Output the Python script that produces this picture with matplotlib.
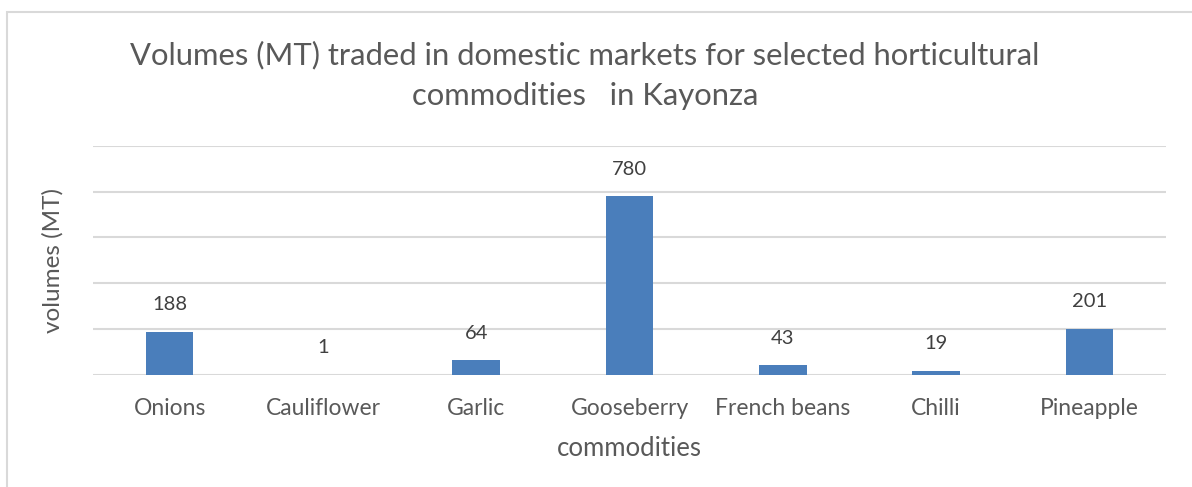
import matplotlib
matplotlib.use("Agg")
import matplotlib.pyplot as plt
from matplotlib.patches import Rectangle

# Traded volumes (metric tonnes) per commodity
commodities = ["Onions", "Cauliflower", "Garlic", "Gooseberry", "French beans", "Chilli", "Pineapple"]
volumes = [188, 1, 64, 780, 43, 19, 201]

title = "Volumes (MT) traded in domestic markets for selected horticultural\ncommodities   in Kayonza"

plt.rcParams["font.family"] = ["Lato", "DejaVu Sans"]

W, H = 1192, 487
fig = plt.figure(figsize=(W / 100, H / 100), dpi=100)
fig.patch.set_facecolor("white")

# Light frame around the chart area
frame = Rectangle((7 / W, -0.2), 1.2, 1.2 - 12 / H, transform=fig.transFigure,
                  fill=False, edgecolor="#d9d9d9", linewidth=1.5)
fig.add_artist(frame)

ax = fig.add_axes([93 / W, 1 - 375 / H, (1166 - 93) / W, (375 - 145.7) / H])

x = list(range(len(commodities)))
bars = ax.bar(x, volumes, width=0.31, color="#4a7ebb", zorder=3)

ax.set_xlim(-0.5, len(commodities) - 0.5)
ax.set_ylim(0, 1000)
ax.set_yticks(range(0, 1001, 200))
ax.yaxis.grid(True, color="#d9d9d9", linewidth=1.5, zorder=0)
ax.tick_params(axis="y", left=False, labelleft=False)
ax.tick_params(axis="x", bottom=False, labelsize=16.5, labelcolor="#595959", pad=13)
ax.set_xticks(x)
ax.set_xticklabels(commodities)
for s in ax.spines.values():
    s.set_visible(False)

for xi, v in zip(x, volumes):
    ax.annotate(f"{v}", (xi, v), xytext=(0, 19.5), textcoords="offset points",
                ha="center", va="center", fontsize=14.5, color="#404040")

ax.set_xlabel("commodities", fontsize=18.5, color="#595959", labelpad=12)
ax.set_ylabel("volumes (MT)", fontsize=17.5, color="#595959", labelpad=21)

fig.text(585 / W, 1 - 75 / H, title, ha="center", va="center", fontsize=22.3,
         color="#595959", linespacing=1.55)

fig.savefig("out.png", dpi=100, facecolor="white")
